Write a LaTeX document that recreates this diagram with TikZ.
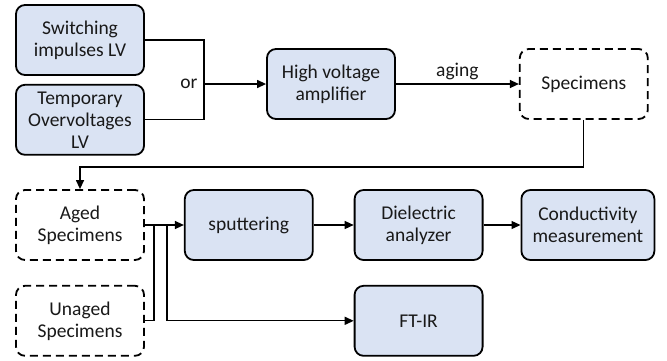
\documentclass[tikz,border=0pt]{standalone}
\usepackage{fontspec}
\setmainfont{Carlito}
\usepackage{xcolor}
\definecolor{boxblue}{RGB}{218,227,243}
\usepackage{tikz}
\usetikzlibrary{arrows.meta, positioning}

\begin{document}
\begin{tikzpicture}[
  x=1pt, y=-1pt,
  font=\fontsize{19.5}{22}\selectfont,
  box/.style={rectangle, rounded corners=9pt, draw=black, fill=boxblue,
              line width=1.8pt, minimum width=128pt, minimum height=70pt,
              align=center, inner sep=3pt, text=black!90},
  dbox/.style={box, fill=white, dash pattern=on 8pt off 5pt},
  line/.style={line width=1.3pt, draw=black},
  arr/.style={line, -{Triangle[length=9pt, width=8pt]}}
]
\useasboundingbox (0,0) rectangle (667,360);

\node[box] (sw) at (80,40) {Switching\\impulses LV};
\node[box, below=8pt of sw] (tov) {Temporary\\Overvoltages\\LV};
\node[box] (hv) at (331,84) {High voltage\\amplifier};
\node[dbox, right=123pt of hv] (spec) {Specimens};
\node[dbox] (aged) at (80,225) {Aged\\Specimens};
\node[dbox, below=24pt of aged] (unaged) {Unaged\\Specimens};
\node[box, right=39pt of aged] (sput) {sputtering};
\node[box, right=40pt of sput] (diel) {Dielectric\\analyzer};
\node[box, right=37pt of diel, minimum width=133pt] (cond) {Conductivity\\measurement};
\node[box] (ftir) at (diel |- unaged) {FT-IR};

\coordinate (orj) at (204,84);
\coordinate (join) at (154,225);
\coordinate (split) at (167,225);

% voltage sources
\draw[line] (sw.east) -| (orj) |- (tov.east);
\draw[arr] (orj) -- (hv.west);
\node[left=3pt of orj, text=black!90] (orlbl) {or};
\draw[arr] (hv) -- node[above, text=black!90] (aginglbl) {aging} (spec);

% back to the second row
\draw[arr] (spec.south) -- ++(0,47) -| (aged.north);

\draw[line] (unaged.east) -| (join);
\draw[arr] (aged) -- (sput);
\draw[arr] (split) |- (ftir.west);
\draw[arr] (sput) -- (diel);
\draw[arr] (diel) -- (cond);
\end{tikzpicture}
\end{document}
